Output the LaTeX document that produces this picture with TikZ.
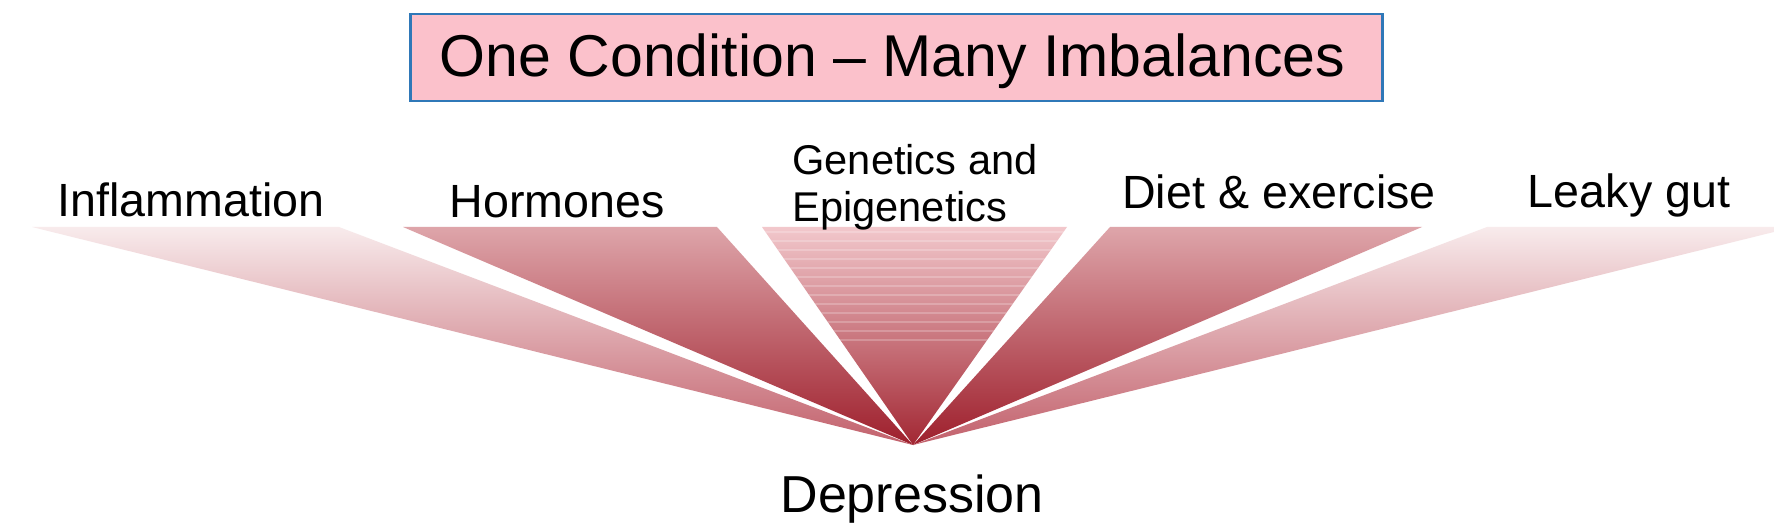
\documentclass[tikz,border=0pt]{standalone}
\usepackage{fontspec}
\setmainfont{Liberation Sans}
\begin{document}
\begin{tikzpicture}[x=0.5pt,y=-0.5pt,
  titlebox/.style={draw=boxblue, line width=1.1pt, fill=boxpink, inner sep=0pt,
    minimum width=486pt, minimum height=43.5pt},
  lbl/.style={anchor=base, font=\fontsize{23.3pt}{27pt}\selectfont, inner sep=0pt},
  glbl/.style={anchor=base west, font=\fontsize{20.8pt}{24pt}\selectfont, inner sep=0pt},
  outer/.style={top color=wA, middle color=wB, bottom color=wC},
  inner/.style={top color=iA, middle color=iB, bottom color=iC},
  centre/.style={top color=cA, middle color=cB, bottom color=cC}
]
\definecolor{boxblue}{HTML}{2F78B8}
\definecolor{boxpink}{HTML}{FBC1CB}
\definecolor{wA}{HTML}{F8EBEC}
\definecolor{wB}{HTML}{EBC4C8}
\definecolor{wC}{HTML}{C2606B}
\definecolor{iA}{HTML}{DEA5AA}
\definecolor{iB}{HTML}{BF6670}
\definecolor{iC}{HTML}{9E1F2C}
\definecolor{cA}{HTML}{F2C8CC}
\definecolor{cB}{HTML}{CF8890}
\definecolor{cC}{HTML}{A22733}
\useasboundingbox (0,0) rectangle (1774,524);
\fill[white] (0,0) rectangle (1774,524);

\coordinate (apex) at (913,445);
\begin{scope}
\clip (0,0) rectangle (1774,524);
\shade[outer] (32,227) -- (339,227) -- (apex) -- cycle;
\shade[inner] (403,227) -- (717,227) -- (apex) -- cycle;
\shade[centre] (762,227) -- (1067,227) -- (apex) -- cycle;
\shade[inner] (1110,227) -- (1422,227) -- (apex) -- cycle;
\shade[outer] (1487,227) -- (1794,227) -- (apex) -- cycle;
\begin{scope}
\clip (762,227) -- (1067,227) -- (apex) -- cycle;
\foreach \yy in {232,241,...,340} {
  \draw[white, opacity=0.22, line width=1.4pt] (700,\yy) -- (1120,\yy);
}
\end{scope}
\end{scope}

\node[titlebox] (title) at (896.5,57.5) {};
\node[anchor=base, font=\fontsize{29.5pt}{34pt}\selectfont, inner sep=0pt] (titletext) at (892.5,77) {One Condition – Many Imbalances};

\node[lbl] (infl) at (191,217) {Inflammation};
\node[lbl] (horm) at (557,218) {Hormones};
\node[glbl] (gen1) at (792,175) {Genetics and};
\node[glbl] (gen2) at (792,221) {Epigenetics};
\node[lbl] (diet) at (1279,208) {Diet \& exercise};
\node[lbl] (leaky) at (1629,207) {Leaky gut};
\node[anchor=base, font=\fontsize{26pt}{30pt}\selectfont, inner sep=0pt] (dep) at (912,512) {Depression};
\end{tikzpicture}
\end{document}
